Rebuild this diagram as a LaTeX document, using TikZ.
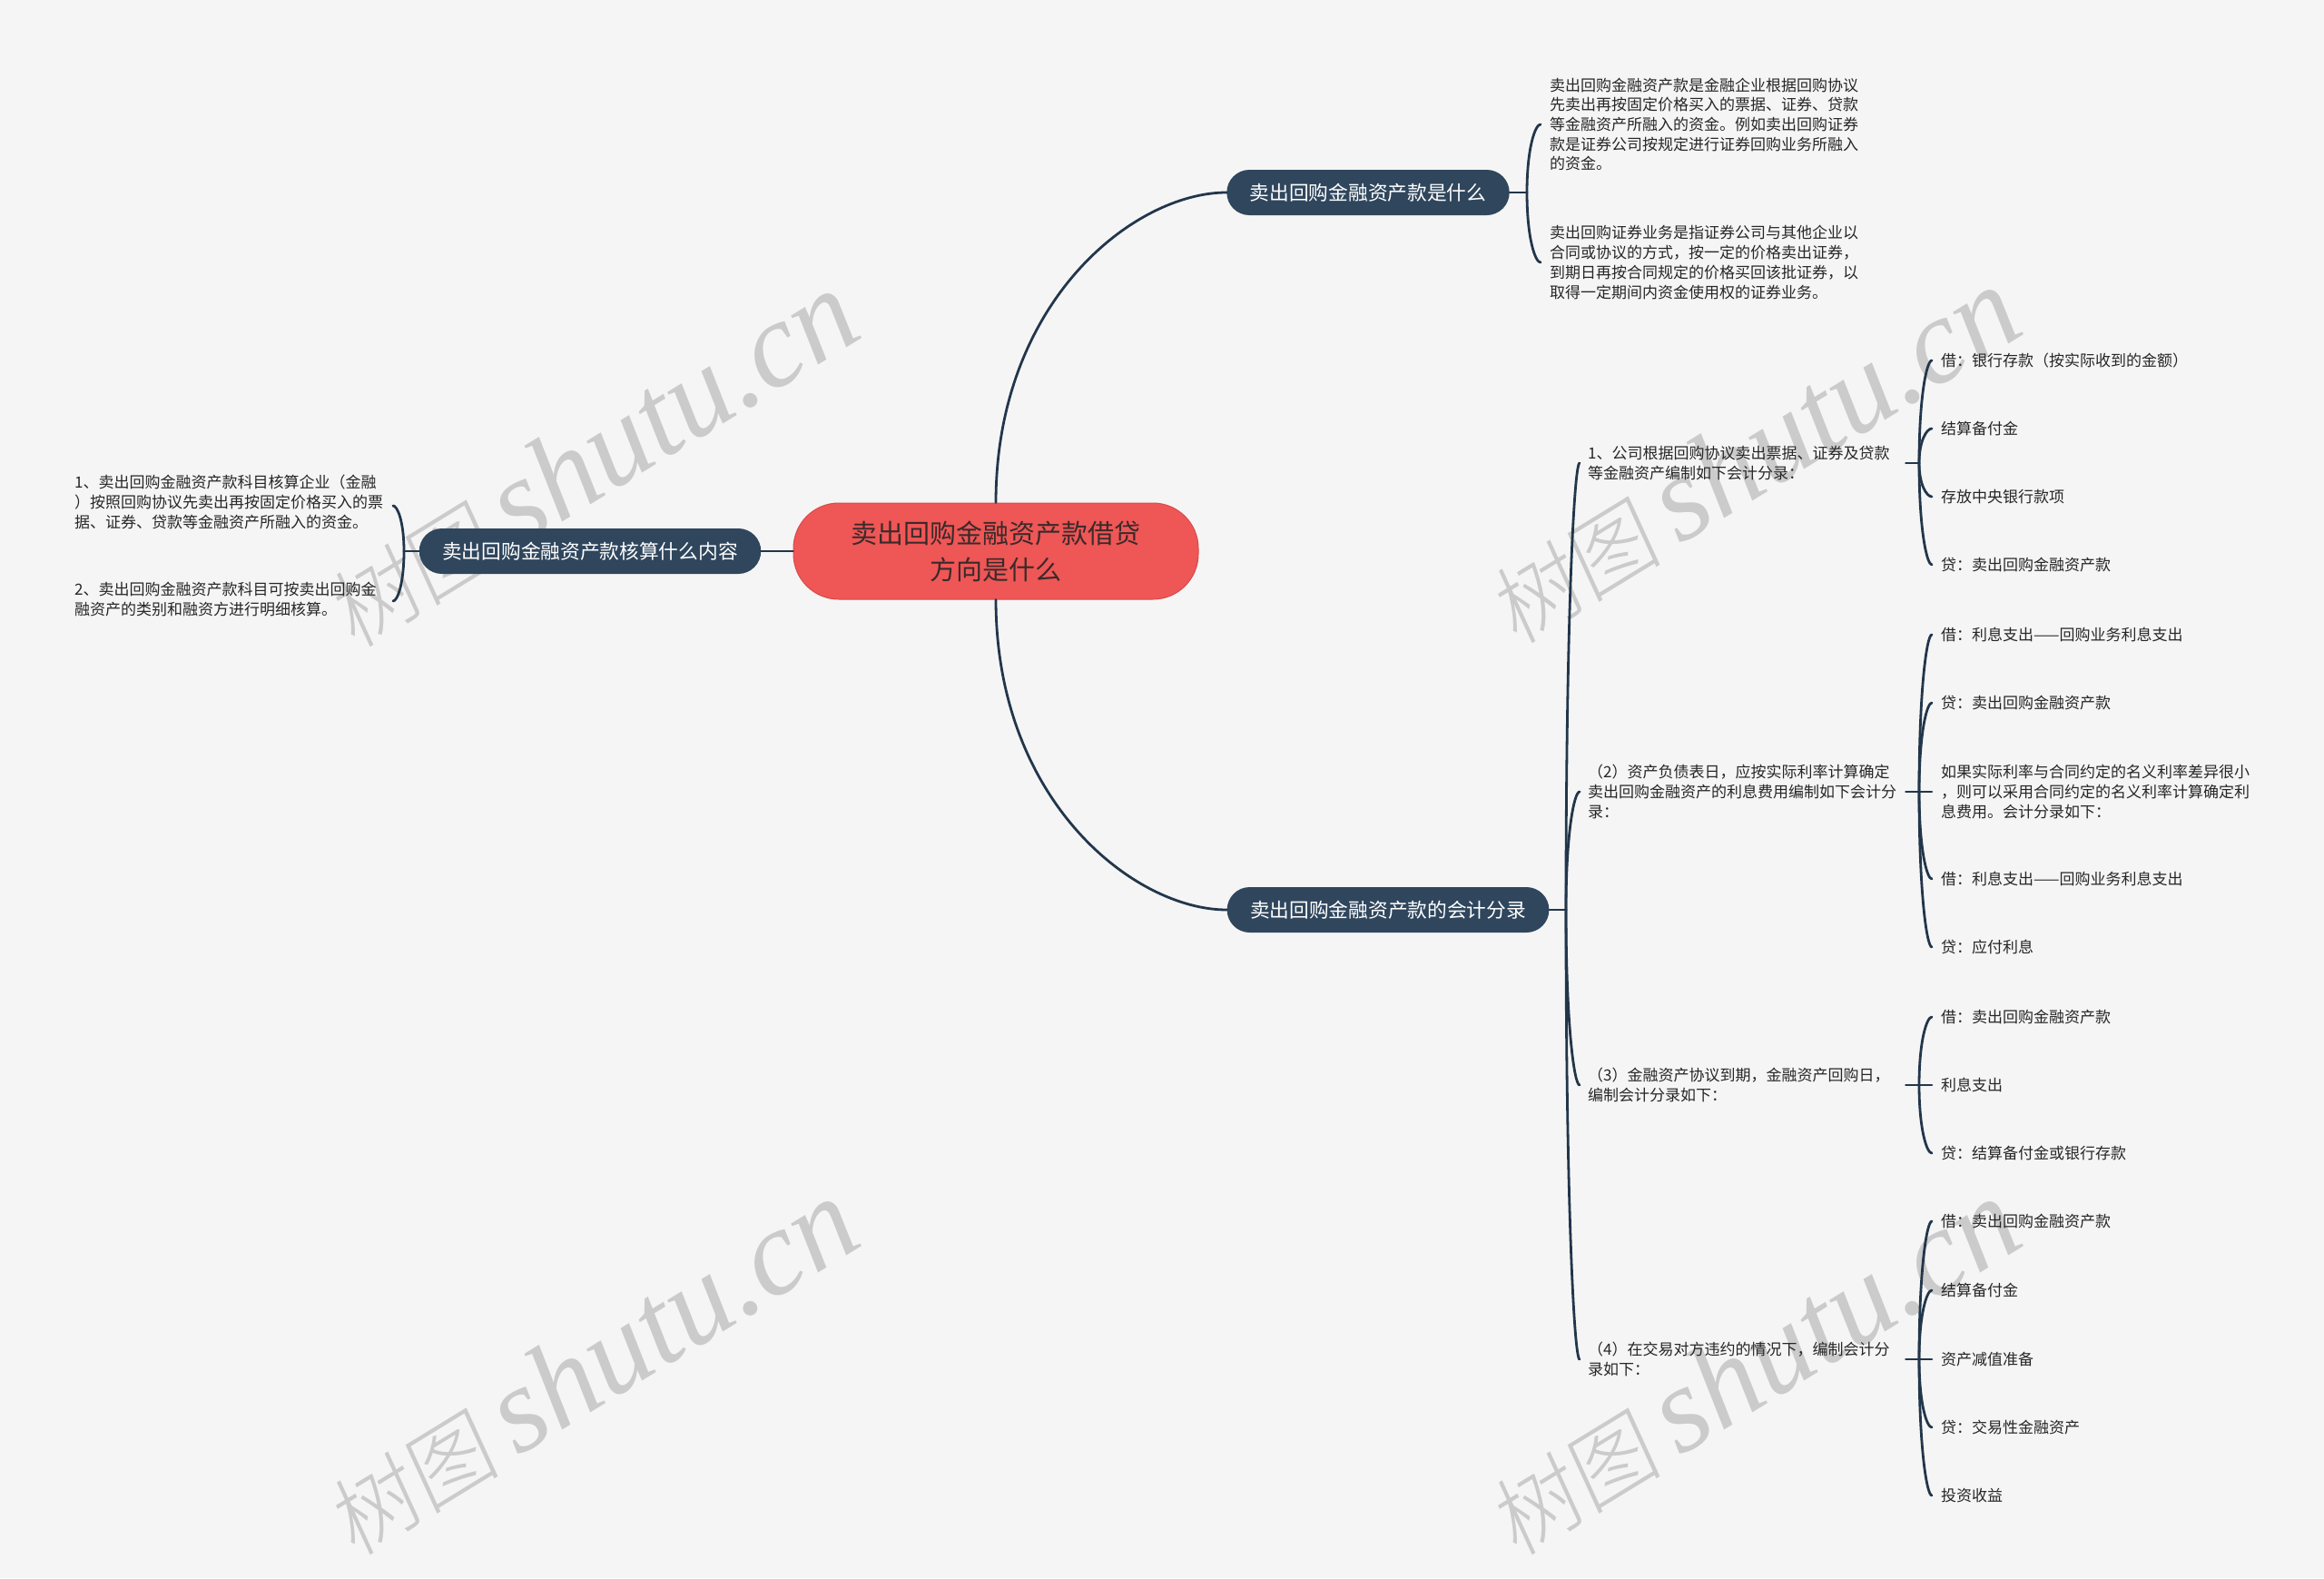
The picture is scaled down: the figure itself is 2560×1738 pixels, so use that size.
\documentclass[tikz,border=0pt]{standalone}
\usepackage{fontspec}
\setmainfont{Noto Sans CJK SC}
\newfontfamily\wmcjk[FakeSlant=0.12]{Noto Sans CJK SC Light}
\newfontfamily\wmlat{Liberation Serif}
\usetikzlibrary{calc}
\definecolor{bgc}{HTML}{F5F5F5}
\definecolor{topicc}{HTML}{2F465D}
\definecolor{linec}{HTML}{22364B}
\definecolor{rootc}{HTML}{EF5656}
\definecolor{rootd}{HTML}{D94A4A}
\definecolor{roottxt}{HTML}{3A2A2A}
\definecolor{leafc}{HTML}{262626}
\definecolor{wmc}{HTML}{CBCBCB}
\newcommand\mmcurve[2]{\draw[conn] (#1) .. controls ($(#1)!0.65!(#1|-#2)$) and ($(#1|-#2)!0.6!(#2)$) .. (#2);}
\begin{document}
\begin{tikzpicture}[x=1pt,y=-1pt,
  conn/.style={draw=linec, line width=2.8pt, line cap=round},
  rootbox/.style={fill=rootc, draw=rootd, line width=1pt, rounded corners=50pt, minimum width=446pt, minimum height=106pt, inner sep=0pt, align=center, text=roottxt, font=\fontsize{29}{40}\selectfont},
  topic/.style={fill=topicc, rounded corners=25pt, minimum height=50pt, inner xsep=25.5pt, inner ysep=0pt, text=white, font=\fontsize{21.7}{26}\selectfont},
  leaf/.style={anchor=west, inner sep=0pt, align=left, text=leafc, font=\fontsize{17}{21.7}\selectfont},
  midleaf/.style={leaf, text width=350pt},
  wm/.style={rotate=31.5, inner sep=0pt, text=wmc}
]
\fill[bgc] (0,0) rectangle (2560,1738);
\useasboundingbox (0,0) rectangle (2560,1738);

% watermarks
\foreach \i/\px/\py in {1/650/506, 2/650/1506, 3/1930/502, 4/1930/1506}{
  \node[wm] (wm\i) at (\px,\py) {{\wmcjk\fontsize{96}{96}\selectfont 树图}\hspace{20pt}{\wmlat\itshape\fontsize{134}{134}\selectfont shutu.cn}};
}

% main nodes
\node[rootbox] (root) at (1097,607) {卖出回购金融资产款借贷\\方向是什么};
\node[topic] (A) at (1507,212) {卖出回购金融资产款是什么};
\node[topic] (B) at (1529,1002) {卖出回购金融资产款的会计分录};
\node[topic] (C) at (650,607) {卖出回购金融资产款核算什么内容};

% leaves of A
\node[leaf] (a1) at (1707,137) {卖出回购金融资产款是金融企业根据回购协议\\先卖出再按固定价格买入的票据、证券、贷款\\等金融资产所融入的资金。例如卖出回购证券\\款是证券公司按规定进行证券回购业务所融入\\的资金。};
\node[leaf] (a2) at (1707,289) {卖出回购证券业务是指证券公司与其他企业以\\合同或协议的方式，按一定的价格卖出证券，\\到期日再按合同规定的价格买回该批证券，以\\取得一定期间内资金使用权的证券业务。};

% leaves of C
\node[leaf] (c1) at (82,553) {1、卖出回购金融资产款科目核算企业（金融\\）按照回购协议先卖出再按固定价格买入的票\\据、证券、贷款等金融资产所融入的资金。};
\node[leaf] (c2) at (82,660) {2、卖出回购金融资产款科目可按卖出回购金\\融资产的类别和融资方进行明细核算。};

% children of B
\node[midleaf] (b1) at (1749,510) {1、公司根据回购协议卖出票据、证券及贷款\\等金融资产编制如下会计分录：};
\node[midleaf] (b2) at (1749,872) {（2）资产负债表日，应按实际利率计算确定\\卖出回购金融资产的利息费用编制如下会计分\\录：};
\node[midleaf] (b3) at (1749,1195) {（3）金融资产协议到期，金融资产回购日，\\编制会计分录如下：};
\node[midleaf] (b4) at (1749,1497) {（4）在交易对方违约的情况下，编制会计分\\录如下：};

% grandchildren
\node[leaf] (g11) at (2138,397) {借：银行存款（按实际收到的金额）};
\node[leaf] (g12) at (2138,472) {结算备付金};
\node[leaf] (g13) at (2138,547) {存放中央银行款项};
\node[leaf] (g14) at (2138,622) {贷：卖出回购金融资产款};

\node[leaf] (g21) at (2138,699) {借：利息支出——回购业务利息支出};
\node[leaf] (g22) at (2138,774) {贷：卖出回购金融资产款};
\node[leaf] (g23) at (2138,872) {如果实际利率与合同约定的名义利率差异很小\\，则可以采用合同约定的名义利率计算确定利\\息费用。会计分录如下：};
\node[leaf] (g24) at (2138,968) {借：利息支出——回购业务利息支出};
\node[leaf] (g25) at (2138,1043) {贷：应付利息};

\node[leaf] (g31) at (2138,1120) {借：卖出回购金融资产款};
\node[leaf] (g32) at (2138,1195) {利息支出};
\node[leaf] (g33) at (2138,1270) {贷：结算备付金或银行存款};

\node[leaf] (g41) at (2138,1345) {借：卖出回购金融资产款};
\node[leaf] (g42) at (2138,1421) {结算备付金};
\node[leaf] (g43) at (2138,1497) {资产减值准备};
\node[leaf] (g44) at (2138,1572) {贷：交易性金融资产};
\node[leaf] (g45) at (2138,1647) {投资收益};

% junction and end coordinates
\coordinate (jA) at (1682,212);
\coordinate (ea1) at (1697,137);
\coordinate (ea2) at (1697,289);
\coordinate (jC) at (445,607);
\coordinate (ec1) at (433,557);
\coordinate (ec2) at (433,662);
\coordinate (jB) at (1725,1002);
\coordinate (eb1) at (1740,510);
\coordinate (eb2) at (1740,872);
\coordinate (eb3) at (1740,1195);
\coordinate (eb4) at (1740,1497);
\coordinate (jb1) at (2114,510);
\coordinate (jb2) at (2114,872);
\coordinate (jb3) at (2114,1195);
\coordinate (jb4) at (2114,1497);
\foreach \g in {g11,g12,g13,g14,g21,g22,g23,g24,g25,g31,g32,g33,g41,g42,g43,g44,g45}{
  \coordinate (e\g) at ([xshift=-10pt]\g.west);
}

% connectors
\mmcurve{root.north}{A.west}
\mmcurve{root.south}{B.west}
\draw[conn] (root.west) -- (C.east);

\draw[conn] (A.east) -- (jA);
\mmcurve{jA}{ea1}
\mmcurve{jA}{ea2}

\draw[conn] (C.west) -- (jC);
\mmcurve{jC}{ec1}
\mmcurve{jC}{ec2}

\draw[conn] (B.east) -- (jB);
\foreach \e in {eb1,eb2,eb3,eb4}{ \mmcurve{jB}{\e} }

\draw[conn] (b1.east) -- (jb1);
\draw[conn] (b2.east) -- (jb2);
\draw[conn] (b3.east) -- (jb3);
\draw[conn] (b4.east) -- (jb4);
\foreach \g in {g11,g12,g13,g14}{ \mmcurve{jb1}{e\g} }
\foreach \g in {g21,g22,g23,g24,g25}{ \mmcurve{jb2}{e\g} }
\foreach \g in {g31,g32,g33}{ \mmcurve{jb3}{e\g} }
\foreach \g in {g41,g42,g43,g44,g45}{ \mmcurve{jb4}{e\g} }
\end{tikzpicture}
\end{document}
